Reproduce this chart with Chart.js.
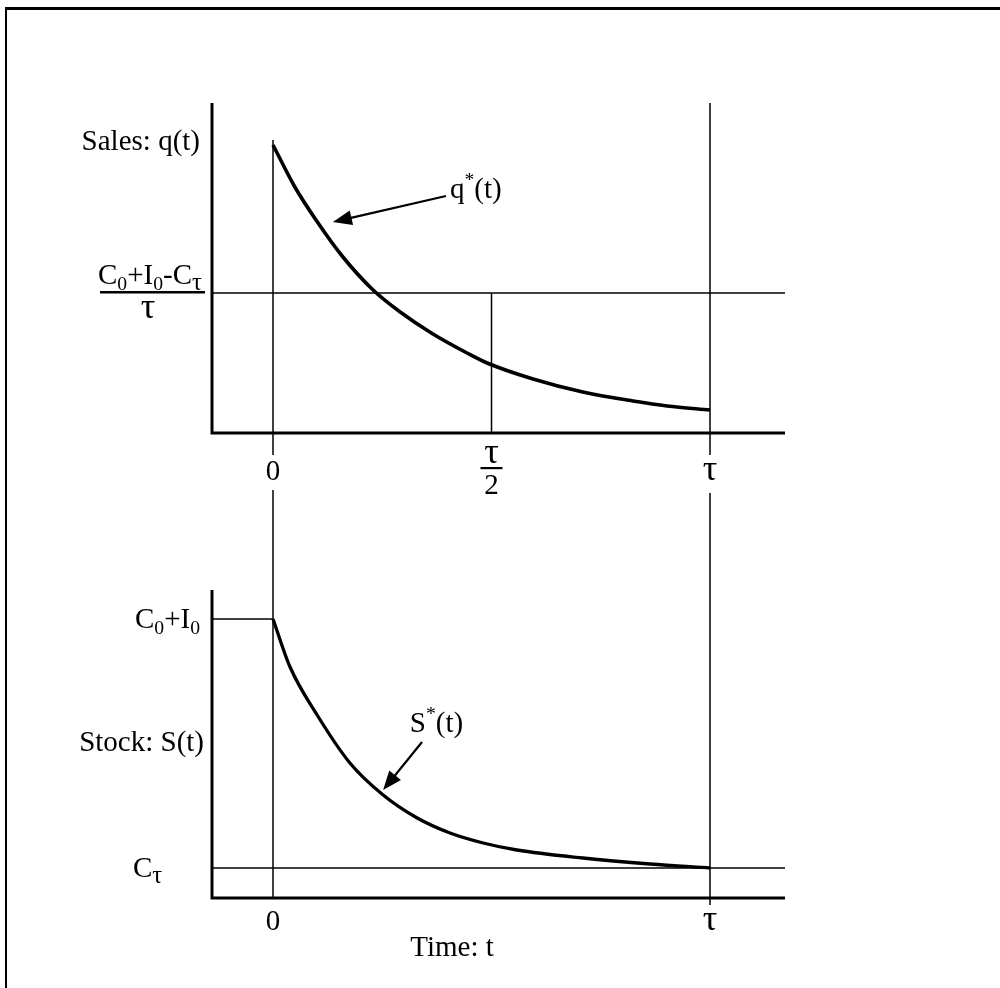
<!DOCTYPE html>
<html><head><meta charset="utf-8">
<script src="https://cdn.jsdelivr.net/npm/chart.js@4/dist/chart.umd.min.js"></script>
<style>
html,body{margin:0;padding:0;background:#fff;}
#wrap{position:relative;width:1000px;height:988px;overflow:hidden;background:#fff;}
#frame{position:absolute;left:5px;top:7px;width:1000px;height:1000px;border-top:3px solid #000;border-left:2px solid #000;}
canvas{position:absolute;left:0;top:0;}
</style></head><body>
<div id="wrap"><div id="frame"></div>
<canvas id="c1" width="1000" height="988"></canvas>
<canvas id="c2" width="1000" height="988"></canvas>
</div>
<script>
// ---- data (time in units of tau) ----
const tSales = [0, 0.05, 0.10, 0.16, 0.229, 0.291, 0.366, 0.444, 0.490, 0.595, 0.709, 0.824, 0.902, 1.0];
const qSales = [2.88, 2.46, 2.12, 1.76, 1.43, 1.21, 0.99, 0.80, 0.70, 0.54, 0.41, 0.32, 0.27, 0.23];
const tStock = [0, 0.039, 0.101, 0.176, 0.252, 0.330, 0.405, 0.481, 0.558, 0.709, 0.863, 1.0];
const sStock = [2.79, 2.31, 1.83, 1.35, 1.03, 0.80, 0.65, 0.55, 0.48, 0.40, 0.34, 0.30];
const qAverage = 1.40;      // (C0+I0-Ct)/tau
const stockStart = 2.79;    // C0+I0
const stockEnd = 0.30;      // C_tau
const tickTimes = [0, 0.5, 1];
const topTickLabels = ['0', 'τ/2', 'τ'];
const bottomTickTimes = [0, 1];
const bottomTickLabels = ['0', 'τ'];

const X_MIN = -0.1396, X_MAX = 1.1716;
const Q_MAX = 3.30, S_MAX = 3.08;
const FONT = '"Liberation Serif", "Times New Roman", serif';

function pts(xs, ys){ return xs.map((x,i)=>({x:x, y:ys[i]})); }

function lineDs(data, w, extra){
  return Object.assign({data:data, borderColor:'#000', borderWidth:w, pointRadius:0, clip:false, fill:false, tension:0}, extra||{});
}

function drawRich(ctx, parts, x, y, align, size){
  let total = 0;
  const measured = parts.map(p=>{
    let fs = (p.sub||p.sup) ? size*0.68 : size;
    if (p.big) fs *= 1.25;
    ctx.font = fs + 'px ' + FONT;
    const w = ctx.measureText(p.t).width;
    total += w;
    return {p, fs, w};
  });
  let cx = align === 'center' ? x - total/2 : (align === 'right' ? x - total : x);
  ctx.textBaseline = 'alphabetic';
  ctx.textAlign = 'left';
  measured.forEach(m=>{
    ctx.font = m.fs + 'px ' + FONT;
    let dy = 0;
    if (m.p.sub) dy = size*0.2;
    if (m.p.sup) dy = -size*0.42;
    ctx.fillText(m.p.t, cx, y + dy);
    cx += m.w;
  });
  return total;
}

function arrow(ctx, x1, y1, x2, y2){
  const ang = Math.atan2(y2-y1, x2-x1);
  const L = 19, W = 7.5;
  ctx.save();
  ctx.strokeStyle = '#000'; ctx.fillStyle = '#000'; ctx.lineWidth = 2.2;
  ctx.beginPath(); ctx.moveTo(x1,y1);
  ctx.lineTo(x2 - Math.cos(ang)*L*0.8, y2 - Math.sin(ang)*L*0.8); ctx.stroke();
  ctx.beginPath();
  ctx.moveTo(x2, y2);
  ctx.lineTo(x2 - Math.cos(ang)*L - Math.sin(ang)*W, y2 - Math.sin(ang)*L + Math.cos(ang)*W);
  ctx.lineTo(x2 - Math.cos(ang)*L + Math.sin(ang)*W, y2 - Math.sin(ang)*L - Math.cos(ang)*W);
  ctx.closePath(); ctx.fill();
  ctx.restore();
}

const S = 29;

const topLabels = {
  id:'topLabels',
  afterDatasetsDraw(chart){
    const ctx = chart.ctx, xs = chart.scales.x, ys = chart.scales.y, a = chart.chartArea;
    ctx.save(); ctx.fillStyle = '#000';
    drawRich(ctx, [{t:'Sales: q(t)'}], 200, 150, 'right', S);
    const yAvg = ys.getPixelForValue(qAverage);
    drawRich(ctx, [{t:'C'},{t:'0',sub:1},{t:'+I'},{t:'0',sub:1},{t:'-C'},{t:'τ',sub:1,big:1}], 150, yAvg - 9, 'center', S);
    ctx.fillRect(100, yAvg - 2, 105, 2.5);
    drawRich(ctx, [{t:'τ',big:1}], 148, yAvg + 25, 'center', S);
    tickTimes.forEach((t,i)=>{
      const px = xs.getPixelForValue(t);
      const lab = topTickLabels[i];
      if (lab === 'τ/2'){
        drawRich(ctx, [{t:'τ',big:1}], px, a.bottom + 30, 'center', S);
        ctx.fillRect(px-11, a.bottom + 34, 22, 2.2);
        drawRich(ctx, [{t:'2'}], px, a.bottom + 61, 'center', S);
      } else {
        drawRich(ctx, [{t:lab, big: lab === 'τ'}], px, a.bottom + 47, 'center', S);
      }
    });
    const lx = xs.getPixelForValue(0.405), ly = ys.getPixelForValue(2.43);
    drawRich(ctx, [{t:'q'},{t:'*',sup:1},{t:'(t)'}], lx, ly + 8, 'left', S);
    arrow(ctx, lx - 4, ly + 6, xs.getPixelForValue(0.137), ys.getPixelForValue(2.11));
    ctx.restore();
  }
};

const bottomLabels = {
  id:'bottomLabels',
  afterDatasetsDraw(chart){
    const ctx = chart.ctx, xs = chart.scales.x, ys = chart.scales.y, a = chart.chartArea;
    ctx.save(); ctx.fillStyle = '#000';
    drawRich(ctx, [{t:'C'},{t:'0',sub:1},{t:'+I'},{t:'0',sub:1}], 200, ys.getPixelForValue(stockStart) + 9, 'right', S);
    drawRich(ctx, [{t:'Stock: S(t)'}], 204, 751, 'right', S);
    drawRich(ctx, [{t:'C'},{t:'τ',sub:1,big:1}], 133, ys.getPixelForValue(stockEnd) + 9, 'left', S);
    bottomTickTimes.forEach((t,i)=>{
      const lab = bottomTickLabels[i];
      drawRich(ctx, [{t:lab, big: lab === 'τ'}], xs.getPixelForValue(t), a.bottom + 32, 'center', S);
    });
    drawRich(ctx, [{t:'Time: t'}], 452, a.bottom + 58, 'center', S);
    const lx = xs.getPixelForValue(0.313), ly = ys.getPixelForValue(1.75);
    drawRich(ctx, [{t:'S'},{t:'*',sup:1},{t:'(t)'}], lx, ly + 9, 'left', S);
    arrow(ctx, xs.getPixelForValue(0.341), ys.getPixelForValue(1.56), xs.getPixelForValue(0.252), ys.getPixelForValue(1.08));
    ctx.restore();
  }
};

function baseOptions(padTop, padBottom, yMax){
  return {
    responsive:false, animation:false, events:[],
    layout:{padding:{left:212, right:215, top:padTop, bottom:padBottom}},
    plugins:{legend:{display:false}, tooltip:{enabled:false}},
    scales:{
      x:{type:'linear', min:X_MIN, max:X_MAX, display:false},
      y:{type:'linear', min:0, max:yMax, display:false}
    }
  };
}

new Chart(document.getElementById('c1'), {
  type:'line',
  data:{datasets:[
    lineDs([{x:X_MIN,y:Q_MAX},{x:X_MIN,y:0},{x:X_MAX,y:0}], 3),
    lineDs([{x:X_MIN,y:qAverage},{x:X_MAX,y:qAverage}], 1.5),
    lineDs([{x:0,y:-0.22},{x:0,y:2.93}], 1.5),
    lineDs([{x:1,y:-0.22},{x:1,y:Q_MAX}], 1.5),
    lineDs([{x:0.5,y:0},{x:0.5,y:qAverage}], 1.5),
    lineDs(pts(tSales, qSales), 3.6, {cubicInterpolationMode:'monotone'})
  ]},
  options: baseOptions(103, 988-433, Q_MAX),
  plugins:[topLabels]
});

new Chart(document.getElementById('c2'), {
  type:'line',
  data:{datasets:[
    lineDs([{x:X_MIN,y:S_MAX},{x:X_MIN,y:0},{x:X_MAX,y:0}], 3),
    lineDs([{x:X_MIN,y:stockStart},{x:0,y:stockStart}], 1.5),
    lineDs([{x:X_MIN,y:stockEnd},{x:X_MAX,y:stockEnd}], 1.5),
    lineDs([{x:0,y:0},{x:0,y:4.08}], 1.5),
    lineDs([{x:1,y:-0.07},{x:1,y:4.05}], 1.5),
    lineDs(pts(tStock, sStock), 3.3, {cubicInterpolationMode:'monotone'})
  ]},
  options: baseOptions(590, 988-898, S_MAX),
  plugins:[bottomLabels]
});
</script>
</body></html>
